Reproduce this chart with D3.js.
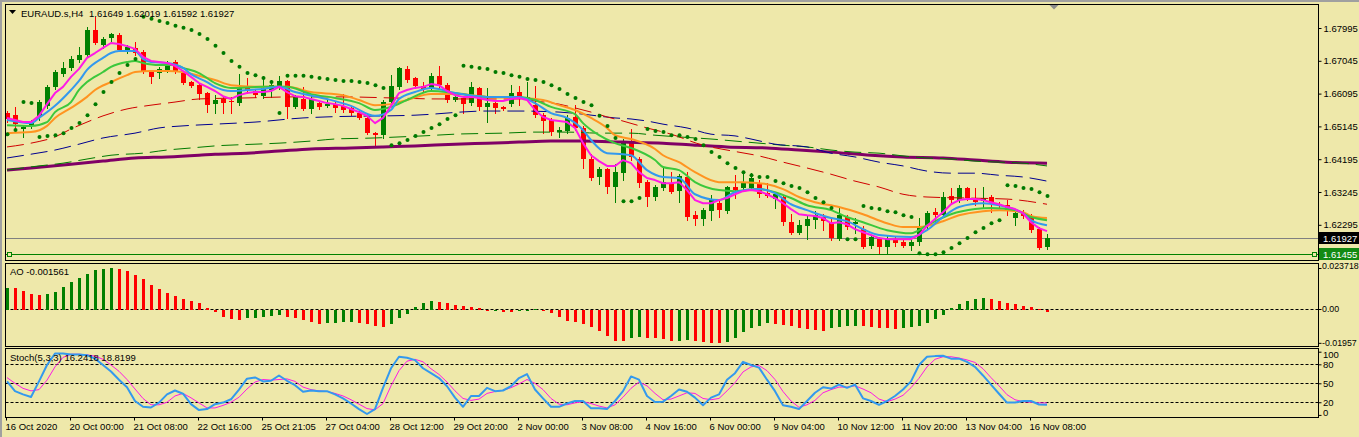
<!DOCTYPE html>
<html><head><meta charset="utf-8">
<script src="https://cdn.jsdelivr.net/npm/d3@7"></script>
<style>
html,body{margin:0;padding:0;background:#EEE8AA;overflow:hidden;}
svg{display:block;}
</style></head><body>
<svg id="c" width="1359" height="437"></svg>
<script>
// ---------------- DATA ----------------
const opens = [
1.6553,1.6547,1.6507,1.6518,1.6542,1.6574,1.6629,1.6666,1.6684,1.6707,
1.6721,1.6794,1.6750,1.6771,1.6779,1.6733,1.6742,1.6730,1.6672,1.6669,
1.6678,1.6701,1.6669,1.6643,1.6634,1.6611,1.6579,1.6594,1.6588,1.6582,
1.6626,1.6617,1.6602,1.6620,1.6629,1.6646,1.6571,1.6594,1.6565,1.6582,
1.6574,1.6579,1.6574,1.6568,1.6553,1.6539,1.6495,1.6489,1.6585,1.6629,
1.6681,1.6655,1.6632,1.6623,1.6661,1.6634,1.6591,1.6597,1.6582,1.6626,
1.6571,1.6582,1.6571,1.6579,1.6614,1.6597,1.6576,1.6547,1.6533,1.6498,
1.6501,1.6542,1.6510,1.6420,1.6368,1.6391,1.6339,1.6379,1.6469,1.6420,
1.6353,1.6310,1.6336,1.6350,1.6327,1.6368,1.6257,1.6246,1.6269,1.6292,
1.6269,1.6339,1.6336,1.6336,1.6347,1.6321,1.6304,1.6310,1.6237,1.6205,
1.6226,1.6243,1.6252,1.6237,1.6188,1.6252,1.6231,1.6217,1.6168,1.6188,
1.6165,1.6185,1.6179,1.6168,1.6179,1.6226,1.6266,1.6257,1.6313,1.6301,
1.6336,1.6307,1.6298,1.6310,1.6289,1.6286,1.6249,1.6263,1.6252,1.6217,
1.61649];
const highs = [
1.6559,1.6571,1.6518,1.6533,1.6591,1.6634,1.6678,1.6701,1.6719,1.6745,
1.6803,1.6832,1.6774,1.6785,1.6785,1.6750,1.6759,1.6736,1.6678,1.6687,
1.6704,1.6707,1.6672,1.6646,1.6637,1.6614,1.6605,1.6600,1.6600,1.6666,
1.6655,1.6623,1.6661,1.6649,1.6661,1.6649,1.6605,1.6629,1.6602,1.6588,
1.6594,1.6585,1.6608,1.6574,1.6559,1.6545,1.6498,1.6591,1.6663,1.6687,
1.6690,1.6658,1.6643,1.6669,1.6690,1.6640,1.6614,1.6602,1.6643,1.6629,
1.6626,1.6588,1.6574,1.6634,1.6632,1.6643,1.6632,1.6553,1.6539,1.6513,
1.6547,1.6576,1.6516,1.6434,1.6397,1.6394,1.6405,1.6478,1.6507,1.6426,
1.6359,1.6344,1.6394,1.6382,1.6376,1.6382,1.6269,1.6278,1.6315,1.6301,
1.6342,1.6373,1.6382,1.6379,1.6359,1.6350,1.6324,1.6315,1.6260,1.6243,
1.6257,1.6269,1.6260,1.6246,1.6278,1.6257,1.6249,1.6226,1.6200,1.6194,
1.6200,1.6194,1.6185,1.6191,1.6249,1.6269,1.6278,1.6324,1.6336,1.6344,
1.6339,1.6336,1.6339,1.6315,1.6295,1.6301,1.6272,1.6272,1.6260,1.6223,
1.62019];
const lows = [
1.6527,1.6504,1.6484,1.6510,1.6533,1.6568,1.6623,1.6661,1.6678,1.6701,
1.6716,1.6753,1.6742,1.6762,1.6733,1.6727,1.6721,1.6669,1.6640,1.6655,
1.6672,1.6669,1.6637,1.6629,1.6594,1.6556,1.6553,1.6553,1.6553,1.6576,
1.6611,1.6600,1.6597,1.6600,1.6623,1.6539,1.6568,1.6562,1.6553,1.6565,
1.6571,1.6556,1.6556,1.6547,1.6536,1.6492,1.6457,1.6481,1.6579,1.6623,
1.6643,1.6626,1.6617,1.6617,1.6626,1.6585,1.6588,1.6553,1.6576,1.6562,
1.6527,1.6553,1.6562,1.6574,1.6576,1.6591,1.6542,1.6495,1.6489,1.6484,
1.6495,1.6504,1.6394,1.6359,1.6347,1.6321,1.6295,1.6359,1.6417,1.6339,
1.6284,1.6301,1.6330,1.6321,1.6295,1.6243,1.6228,1.6228,1.6243,1.6252,
1.6263,1.6307,1.6330,1.6330,1.6310,1.6310,1.6278,1.6228,1.6202,1.6202,
1.6188,1.6220,1.6214,1.6185,1.6185,1.6217,1.6205,1.6162,1.6162,1.6147,
1.6147,1.6168,1.6165,1.6156,1.6171,1.6220,1.6234,1.6252,1.6289,1.6295,
1.6301,1.6286,1.6281,1.6266,1.6278,1.6257,1.6228,1.6249,1.6208,1.6159,
1.61592];
const closes = [
1.6536,1.6521,1.6513,1.6527,1.6585,1.6629,1.6672,1.6684,1.6710,1.6721,
1.6794,1.6756,1.6768,1.6782,1.6736,1.6745,1.6727,1.6672,1.6658,1.6681,
1.6690,1.6672,1.6640,1.6632,1.6608,1.6576,1.6591,1.6582,1.6585,1.6626,
1.6617,1.6605,1.6626,1.6634,1.6646,1.6571,1.6600,1.6565,1.6594,1.6571,
1.6579,1.6568,1.6562,1.6553,1.6539,1.6495,1.6489,1.6585,1.6632,1.6684,
1.6649,1.6632,1.6623,1.6661,1.6634,1.6591,1.6600,1.6579,1.6629,1.6571,
1.6582,1.6568,1.6565,1.6611,1.6600,1.6599,1.6547,1.6530,1.6498,1.6504,
1.6539,1.6510,1.6420,1.6365,1.6391,1.6339,1.6382,1.6466,1.6426,1.6350,
1.6310,1.6339,1.6353,1.6324,1.6371,1.6252,1.6246,1.6272,1.6301,1.6272,
1.6339,1.6330,1.6353,1.6365,1.6318,1.6313,1.6318,1.6237,1.6205,1.6228,
1.6246,1.6257,1.6240,1.6191,1.6257,1.6223,1.6237,1.6165,1.6194,1.6165,
1.6188,1.6176,1.6168,1.6179,1.6220,1.6263,1.6257,1.6310,1.6301,1.6336,
1.6307,1.6295,1.6307,1.6289,1.6284,1.6269,1.6263,1.6255,1.6214,1.6162,
1.61927];

// moving averages
const maMagenta = [
1.6539,1.6533,1.6527,1.6527,1.6545,1.6579,1.6611,1.6629,1.6658,1.6681,
1.6713,1.6727,1.6742,1.6756,1.6753,1.6747,1.6739,1.6716,1.6704,1.6701,
1.6698,1.6690,1.6675,1.6658,1.6640,1.6629,1.6617,1.6602,1.6594,1.6605,
1.6611,1.6614,1.6614,1.6617,1.6629,1.6614,1.6602,1.6600,1.6594,1.6588,
1.6582,1.6579,1.6574,1.6565,1.6556,1.6545,1.6524,1.6539,1.6574,1.6611,
1.6620,1.6626,1.6629,1.6637,1.6634,1.6617,1.6605,1.6600,1.6600,1.6597,
1.6591,1.6588,1.6588,1.6594,1.6597,1.6591,1.6562,1.6542,1.6533,1.6530,
1.6527,1.6510,1.6466,1.6431,1.6414,1.6400,1.6400,1.6417,1.6408,1.6382,
1.6365,1.6359,1.6350,1.6350,1.6353,1.6330,1.6301,1.6292,1.6292,1.6301,
1.6307,1.6318,1.6327,1.6330,1.6327,1.6318,1.6307,1.6292,1.6275,1.6260,
1.6257,1.6255,1.6249,1.6234,1.6237,1.6231,1.6217,1.6208,1.6200,1.6191,
1.6188,1.6188,1.6188,1.6188,1.6200,1.6226,1.6246,1.6266,1.6289,1.6301,
1.6304,1.6304,1.6301,1.6295,1.6289,1.6281,1.6275,1.6263,1.6237,1.6220,
1.6211];
const maBlue = [[0,1.6533],[3,1.6524],[4,1.6539],[6,1.6574],[8,1.6620],[9,1.6646],[10,1.6678],[12,1.6713],[13,1.6727],[14,1.6733],[16,1.6733],[17,1.6710],[18,1.6701],[20,1.6698],[22,1.6684],[23,1.6666],[25,1.6643],[26,1.6629],[28,1.6617],[30,1.6620],[32,1.6623],[34,1.6629],[36,1.6614],[40,1.6594],[43,1.6574],[46,1.6545],[48,1.6562],[49,1.6594],[51,1.6614],[53,1.6626],[56,1.6611],[60,1.6600],[64,1.6600],[66,1.6582],[68,1.6553],[70,1.6539],[72,1.6504],[73,1.6475],[75,1.6437],[77,1.6434],[78,1.6431],[80,1.6388],[82,1.6368],[84,1.6365],[86,1.6318],[89,1.6301],[91,1.6324],[94,1.6333],[96,1.6321],[98,1.6289],[100,1.6272],[103,1.6249],[105,1.6240],[107,1.6217],[109,1.6200],[113,1.6194],[115,1.6214],[117,1.6252],[119,1.6281],[122,1.6292],[124,1.6286],[127,1.6263],[128,1.6243],[130,1.6228]];
const maGreen = [[0,1.6518],[3,1.6516],[5,1.6527],[6,1.6556],[8,1.6585],[9,1.6620],[10,1.6643],[12,1.6672],[13,1.6687],[15,1.6701],[16,1.6704],[17,1.6698],[19,1.6692],[21,1.6692],[22,1.6684],[24,1.6669],[26,1.6640],[28,1.6626],[32,1.6629],[35,1.6629],[38,1.6608],[41,1.6597],[44,1.6582],[46,1.6562],[48,1.6571],[50,1.6591],[53,1.6617],[56,1.6611],[60,1.6600],[64,1.6600],[66,1.6591],[68,1.6571],[71,1.6550],[72,1.6524],[74,1.6489],[76,1.6466],[78,1.6452],[81,1.6417],[82,1.6397],[84,1.6388],[86,1.6353],[89,1.6330],[91,1.6327],[94,1.6333],[96,1.6324],[98,1.6307],[100,1.6286],[103,1.6272],[105,1.6252],[107,1.6237],[110,1.6214],[113,1.6205],[115,1.6228],[118,1.6260],[121,1.6275],[123,1.6278],[126,1.6272],[128,1.6252],[130,1.6243]];
const maOrange = [[0,1.6495],[3,1.6498],[5,1.6516],[6,1.6539],[8,1.6568],[10,1.6600],[11,1.6620],[13,1.6643],[15,1.6663],[16,1.6672],[18,1.6675],[20,1.6675],[22,1.6672],[24,1.6661],[26,1.6649],[28,1.6634],[32,1.6629],[35,1.6629],[38,1.6614],[42,1.6605],[44,1.6591],[46,1.6576],[48,1.6579],[50,1.6591],[53,1.6608],[56,1.6608],[60,1.6600],[64,1.6597],[67,1.6591],[69,1.6576],[71,1.6562],[73,1.6539],[75,1.6510],[76,1.6489],[78,1.6478],[81,1.6449],[82,1.6431],[84,1.6411],[86,1.6382],[89,1.6353],[92,1.6353],[95,1.6347],[97,1.6333],[99,1.6310],[101,1.6295],[104,1.6281],[107,1.6260],[110,1.6234],[112,1.6223],[114,1.6223],[117,1.6240],[119,1.6257],[122,1.6269],[124,1.6272],[127,1.6266],[128,1.6255],[130,1.6249]];
const maRedDash = [[0,1.6455],[3,1.6466],[6,1.6484],[8,1.6507],[10,1.6527],[12,1.6545],[15,1.6565],[18,1.6576],[21,1.6585],[24,1.6594],[30,1.6597],[36,1.6600],[42,1.6600],[48,1.6597],[54,1.6594],[60,1.6594],[64,1.6594],[66,1.6588],[69,1.6579],[71,1.6568],[73,1.6556],[75,1.6542],[77,1.6530],[80,1.6510],[83,1.6492],[87,1.6460],[90,1.6446],[94,1.6429],[97,1.6411],[100,1.6394],[103,1.6376],[106,1.6356],[109,1.6339],[112,1.6318],[115,1.6310],[120,1.6307],[125,1.6304],[130,1.6289]];
const maNavyDash = [[0,1.6423],[3,1.6434],[6,1.6446],[9,1.6463],[12,1.6481],[16,1.6495],[19,1.6510],[22,1.6516],[26,1.6521],[31,1.6527],[37,1.6539],[40,1.6542],[51,1.6547],[60,1.6559],[64,1.6559],[69,1.6556],[72,1.6550],[76,1.6539],[78,1.6536],[80,1.6530],[82,1.6521],[85,1.6510],[88,1.6492],[91,1.6487],[93,1.6478],[96,1.6463],[100,1.6455],[103,1.6437],[106,1.6426],[109,1.6411],[112,1.6400],[115,1.6385],[118,1.6379],[121,1.6379],[124,1.6373],[127,1.6368],[130,1.6356]];
const maGreenDash = [[0,1.6388],[4,1.6400],[7,1.6408],[10,1.6420],[13,1.6431],[17,1.6437],[20,1.6446],[23,1.6452],[26,1.6458],[31,1.6463],[34,1.6466],[38,1.6472],[41,1.6478],[46,1.6481],[49,1.6484],[52,1.6487],[56,1.6492],[62,1.6495],[66,1.6498],[70,1.6498],[74,1.6495],[78,1.6495],[81,1.6489],[84,1.6484],[88,1.6478],[91,1.6472],[94,1.6466],[97,1.6460],[100,1.6455],[103,1.6446],[106,1.6440],[109,1.6437],[112,1.6429],[115,1.6423],[118,1.6420],[121,1.6414],[124,1.6411],[127,1.6408],[130,1.6400]];
const maPurple = [[0,1.6388],[3,1.6394],[8,1.6405],[12,1.6414],[16,1.6423],[20,1.6426],[24,1.6431],[26,1.6434],[30,1.6437],[34,1.6443],[38,1.6449],[43,1.6452],[47,1.6455],[51,1.6458],[56,1.6463],[60,1.6466],[64,1.6469],[68,1.6472],[72,1.6472],[77,1.6469],[82,1.6466],[86,1.6460],[90,1.6455],[95,1.6452],[99,1.6446],[103,1.6440],[108,1.6431],[112,1.6426],[117,1.6423],[121,1.6417],[125,1.6411],[130,1.6408]];

const sar = [
1.6492,1.6504,1.6585,1.6582,1.6484,1.6487,1.6489,1.6495,1.6510,1.6524,
1.6547,1.6579,1.6614,1.6643,1.6669,1.6692,1.6710,1.6832,1.6826,1.6820,
1.6814,1.6806,1.6800,1.6794,1.6782,1.6768,1.6748,1.6727,1.6704,1.6687,
1.6669,1.6663,1.6655,1.6643,1.6553,1.6661,1.6661,1.6661,1.6658,1.6655,
1.6652,1.6649,1.6646,1.6646,1.6643,1.6640,1.6634,1.6626,1.6460,1.6466,
1.6475,1.6487,1.6498,1.6510,1.6521,1.6536,1.6547,1.6690,1.6687,1.6684,
1.6681,1.6672,1.6669,1.6663,1.6658,1.6652,1.6649,1.6643,1.6634,1.6623,
1.6608,1.6597,1.6585,1.6576,1.6545,1.6516,1.6481,1.6298,1.6298,1.6307,
1.6507,1.6501,1.6498,1.6489,1.6489,1.6484,1.6478,1.6460,1.6440,1.6426,
1.6408,1.6394,1.6382,1.6373,1.6368,1.6368,1.6356,1.6350,1.6342,1.6336,
1.6324,1.6307,1.6295,1.6278,null,1.6188,1.6188,1.6284,1.6278,1.6275,
1.6269,1.6266,1.6257,1.6252,1.6147,1.6144,1.6144,1.6150,1.6162,1.6176,
1.6191,1.6208,1.6220,1.6234,1.6243,1.6344,1.6342,1.6336,1.6333,1.6324,
1.6313];

const aoValues = [
0.0123,0.0120,0.0106,0.0087,0.0081,0.0087,0.0100,0.0127,0.0156,0.0181,
0.0202,0.0226,0.0233,0.023718,0.0231,0.0222,0.0197,0.0174,0.0139,0.0116,
0.0091,0.0075,0.0058,0.0046,0.0035,0.0008,-0.0019,-0.0046,-0.0060,-0.0061,
-0.0054,-0.0050,-0.0046,-0.0040,-0.0035,-0.0046,-0.0054,-0.0064,-0.0073,-0.0084,
-0.0081,-0.0079,-0.0077,-0.0075,-0.0081,-0.0087,-0.0097,-0.0102,-0.0087,-0.0054,
-0.0029,0.0013,0.0033,0.0046,0.0039,0.0033,0.0023,0.0017,0.0012,0.0004,
-0.0006,-0.0004,-0.0019,-0.0020,-0.0012,-0.0006,-0.0002,-0.0003,-0.0025,-0.0048,
-0.0068,-0.0073,-0.0087,-0.0102,-0.0127,-0.0154,-0.0183,-0.0185,-0.0170,-0.0160,
-0.0166,-0.0170,-0.0174,-0.0185,-0.0183,-0.0182,-0.0185,-0.0189,-0.0195,-0.01957,
-0.0193,-0.0166,-0.0135,-0.0112,-0.0098,-0.0079,-0.0087,-0.0093,-0.0098,-0.0108,
-0.0116,-0.0121,-0.0127,-0.0112,-0.0102,-0.0098,-0.0097,-0.0098,-0.0102,-0.0108,
-0.0112,-0.0116,-0.0112,-0.0102,-0.0097,-0.0083,-0.0058,-0.0035,0.0008,0.0027,
0.0046,0.0056,0.0062,0.0058,0.0046,0.0033,0.0027,0.0019,0.0013,0.0002,
-0.001561];

const stochMain = [
53,37.6,32.4,28.3,53,79,97,97,95.5,95.5,
94.5,89,79,68.7,55.7,43.8,22,12.8,11.7,19.5,
32.4,38.6,33.5,17,7.6,9.2,17,19.5,24.7,40,
57.3,59.3,53,54,62.4,54,47,36.6,38.6,37.6,
37.6,32.4,26.2,18,9.2,1.4,9.2,42.8,73.8,92,
90.4,86.7,73.8,66,58.3,45.4,27.3,12.8,29.9,29.9,
42.8,37.6,38.6,45.4,58.3,64.5,40.2,26.2,12.8,12.8,
18,22,22,10.7,10.7,9.2,22,37.6,60.9,55.7,
29.9,20.5,21,29.9,40.2,36.6,27.3,15.4,27.3,32.4,
55.7,66,84,79,74.8,55.7,37.6,15.4,12.8,9.2,
22,35,43.8,41.7,48,42.8,48,26.2,22,15.9,
22,29.9,40.2,53,79,92,93,93.5,89,89,
84,76,62.4,48,33.5,19.5,19.5,22,22,16.5,
16.2418];
const stochSignal = [
59,50,42,38,40,55,76,91,96,96,
95,93,88,79,69,56,41,26,16,16,
20,30,34,27,19,11,11,15,20,28,
41,52,56,55,56,57,53,44,40,38,
37,34,30,24,17,10,8,18,46,70,
85,88,84,73,64,52,38,26,23,25,
34,37,39,43,49,56,50,40,26,17,
16,19,21,18,14,11,16,28,42,52,
46,34,24,25,30,35,34,26,24,26,
38,51,68,76,78,70,56,37,22,12,
16,23,35,40,44,44,46,41,35,25,
21,25,31,43,58,76,88,92,92,90,
87,83,73,59,46,32,24,21,20,19,
18.8199];

const priceTicks = [1.67995,1.67045,1.66095,1.65145,1.64195,1.63245,1.62295];
const aoTicks = [0.023718, 0, -0.01957];
const aoTickLabels = ["0.023718","0.00","-0.01957"];
const stochTicks = [100,80,50,20,0];
const stochLevels = [80,50,20];
const timeTickBars = [0,8,16,24,32,40,48,56,64,72,80,88,96,104,112,120,128];
const timeLabels = ["16 Oct 2020","20 Oct 00:00","21 Oct 08:00","22 Oct 16:00","25 Oct 21:05","27 Oct 04:00","28 Oct 12:00","29 Oct 20:00","2 Nov 00:00","3 Nov 08:00","4 Nov 16:00","6 Nov 00:00","9 Nov 04:00","10 Nov 12:00","11 Nov 20:00","13 Nov 04:00","16 Nov 08:00"];
const bidPrice = 1.61927;
const levelPrice = 1.61455;
const headerSymbol = "EURAUD.s,H4";
const headerOHLC = "1.61649 1.62019 1.61592 1.61927";
const aoText = "AO -0.001561";
const stochText = "Stoch(5,3,3) 16.2418 18.8199";

// ---------------- LAYOUT ----------------
const FONT = '"Liberation Sans", Arial, sans-serif';
const FS = 9.5;
const BG = '#EEE8AA';
const PL = 5.5, PR = 1318.5;
const mainTop = 4.5, mainBot = 260.5;
const aoTop = 263.5, aoBot = 346.5;
const stTop = 348.5, stBot = 417.5;

const x = d3.scaleLinear().domain([0,130]).range([7,1047]);
const yP = d3.scaleLinear().domain([1.67995,1.62295]).range([28,224.8]);
const yAO = d3.scaleLinear().domain([0,0.023718]).range([309,268]);
const yS = d3.scaleLinear().domain([0,100]).range([414.9,351.7]);

const svg = d3.select('#c');
svg.append('rect').attr('width',1359).attr('height',437).attr('fill',BG);
svg.append('rect').attr('x',0).attr('y',0).attr('width',1359).attr('height',2).attr('fill','#A0A0A0');
svg.append('rect').attr('x',0).attr('y',0).attr('width',2).attr('height',437).attr('fill','#A0A0A0');

const defs = svg.append('defs');
function clip(id,y0,y1){
  defs.append('clipPath').attr('id',id).append('rect')
    .attr('x',PL+0.5).attr('y',y0+0.5).attr('width',PR-PL-1).attr('height',y1-y0-1);
}
clip('cm',mainTop,mainBot); clip('ca',aoTop,aoBot); clip('cs',stTop,stBot);

// ---------------- MAIN PANEL ----------------
const gm = svg.append('g').attr('clip-path','url(#cm)');
gm.append('line').attr('x1',PL).attr('x2',PR).attr('y1',Math.round(yP(bidPrice))+0.5).attr('y2',Math.round(yP(bidPrice))+0.5)
  .attr('stroke','#808080').attr('stroke-width',1);
const ly = Math.round(yP(levelPrice))+0.5;
gm.append('line').attr('x1',PL).attr('x2',PR).attr('y1',ly).attr('y2',ly).attr('stroke','#008000').attr('stroke-width',1);
[PL+2, PR-6].forEach(sx=>{
  gm.append('rect').attr('x',sx).attr('y',ly-2).attr('width',4).attr('height',4)
    .attr('fill',BG).attr('stroke','#008000').attr('stroke-width',1);
});

const cg = gm.append('g');
opens.forEach((o,i)=>{
  const c = closes[i], h = highs[i], l = lows[i];
  const col = c >= o ? '#008000' : '#FF0000';
  const cx = x(i);
  cg.append('line').attr('x1',cx+0.5).attr('x2',cx+0.5)
    .attr('y1',Math.round(yP(h))).attr('y2',Math.round(yP(l))+1)
    .attr('stroke',col).attr('stroke-width',1);
  const yt = Math.round(yP(Math.max(o,c))), yb = Math.round(yP(Math.min(o,c)));
  cg.append('rect').attr('x',cx-2).attr('y',yt).attr('width',5).attr('height',Math.max(1,yb-yt))
    .attr('fill',col);
});

const linePair = d3.line().x(d=>x(d[0])).y(d=>yP(d[1])).curve(d3.curveMonotoneX);
const lineArr = d3.line().x((d,i)=>x(i)).y(d=>yP(d));
function drawMA(data, color, width, dash, gen){
  gm.append('path').attr('d',(gen||linePair)(data)).attr('fill','none')
    .attr('stroke',color).attr('stroke-width',width)
    .attr('stroke-dasharray',dash||null).attr('stroke-linejoin','round');
}
drawMA(maPurple,'#800066',3);
drawMA(maGreenDash,'#007A00',1,'17,7');
drawMA(maNavyDash,'#000090',1,'17,7');
drawMA(maRedDash,'#D00000',1,'17,7');
drawMA(maOrange,'#FF9420',2);
drawMA(maGreen,'#3CC83C',2);
drawMA(maBlue,'#3399EE',2);
drawMA(maMagenta,'#FF19E6',2,null,lineArr);

gm.append('g').selectAll('circle').data(sar.map((v,i)=>[i,v]).filter(d=>d[1]!==null))
  .join('circle').attr('cx',d=>x(d[0])+0.5).attr('cy',d=>yP(d[1])).attr('r',2)
  .attr('fill','#007A00');

// header
svg.append('path').attr('d','M9,10 L16,10 L12.5,14 Z').attr('fill','#000');
svg.append('text').attr('x',21).attr('y',17).attr('font-family',FONT).attr('font-size',FS)
  .attr('fill','#000').text(headerSymbol);
svg.append('text').attr('x',89).attr('y',17).attr('font-family',FONT).attr('font-size',FS)
  .attr('fill','#000').text(headerOHLC);
svg.append('path').attr('d','M1049,4.5 L1059,4.5 L1054,9.5 Z').attr('fill','#8C8C8C');

// ---------------- AO PANEL ----------------
const ga = svg.append('g').attr('clip-path','url(#ca)');
ga.append('line').attr('x1',PL).attr('x2',PR).attr('y1',yAO(0)+0.5).attr('y2',yAO(0)+0.5)
  .attr('stroke','#000').attr('stroke-dasharray','3,2');
aoValues.forEach((v,i)=>{
  const up = i===0 || v > aoValues[i-1];
  const y0 = Math.round(yAO(0))+1, y1 = Math.round(yAO(v));
  ga.append('rect').attr('x',x(i)-1).attr('width',3)
    .attr('y',Math.min(y0,y1)).attr('height',Math.max(1,Math.abs(y1-y0)))
    .attr('fill',up ? '#008000' : '#FF0000');
});
svg.append('text').attr('x',10).attr('y',275).attr('font-family',FONT).attr('font-size',FS)
  .attr('fill','#000').text(aoText);

// ---------------- STOCH PANEL ----------------
const gs = svg.append('g').attr('clip-path','url(#cs)');
stochLevels.forEach(lv=>{
  const yy = Math.round(yS(lv))+0.5;
  gs.append('line').attr('x1',PL).attr('x2',PR).attr('y1',yy).attr('y2',yy)
    .attr('stroke','#000').attr('stroke-dasharray','3,2');
});
const sLine = d3.line().x((d,i)=>x(i)).y(d=>yS(d));
gs.append('path').attr('d',sLine(stochSignal)).attr('fill','none').attr('stroke','#FF19E6').attr('stroke-width',1);
gs.append('path').attr('d',sLine(stochMain)).attr('fill','none').attr('stroke','#3399EE').attr('stroke-width',2).attr('stroke-linejoin','round');
svg.append('text').attr('x',10).attr('y',361).attr('font-family',FONT).attr('font-size',FS)
  .attr('fill','#000').text(stochText);

// ---------------- FRAMES ----------------
[[mainTop,mainBot],[aoTop,aoBot],[stTop,stBot]].forEach(([a,b])=>{
  svg.append('rect').attr('x',PL).attr('y',a).attr('width',PR-PL).attr('height',b-a)
    .attr('fill','none').attr('stroke','#000').attr('stroke-width',1);
});

// ---------------- AXES ----------------
function styleAxis(g, fs){
  g.attr('font-family',FONT).attr('font-size',fs||FS);
  g.select('.domain').remove();
  g.selectAll('line').attr('stroke','#000');
  g.selectAll('text').attr('fill','#000');
}
const gPA = svg.append('g').attr('transform',`translate(${PR},0)`)
  .call(d3.axisRight(yP).tickValues(priceTicks).tickSize(3).tickPadding(2).tickFormat(d3.format('.5f')));
styleAxis(gPA);

function priceBox(p, fill){
  const yy = Math.round(yP(p));
  svg.append('rect').attr('x',PR+0.5).attr('y',yy-6).attr('width',1359-PR).attr('height',12).attr('fill',fill);
  svg.append('text').attr('x',PR+4.5).attr('y',yy+3.5).attr('font-family',FONT).attr('font-size',FS)
    .attr('fill','#fff').text(d3.format('.5f')(p));
}
priceBox(bidPrice,'#000');
priceBox(levelPrice,'#138A13');

const gAA = svg.append('g').attr('transform',`translate(${PR},0)`)
  .call(d3.axisRight(yAO).tickValues(aoTicks).tickSize(3).tickPadding(0.5).tickFormat((d,i)=>aoTickLabels[i]));
styleAxis(gAA, 8.8);
gAA.selectAll('.tick').filter((d,i)=>i===0).select('text').attr('dy','0.1em');

const gSA = svg.append('g').attr('transform',`translate(${PR},0)`)
  .call(d3.axisRight(yS).tickValues(stochTicks).tickSize(3).tickPadding(1.5));
styleAxis(gSA);
gSA.selectAll('.tick').filter(d=>d===100).select('text').attr('dy','0.62em');
gSA.selectAll('.tick').filter(d=>d===0).select('text').attr('dy','0.05em');

const gX = svg.append('g').attr('transform',`translate(0,${stBot})`)
  .call(d3.axisBottom(x).tickValues(timeTickBars).tickSize(3).tickPadding(3).tickFormat((d,i)=>timeLabels[i]));
styleAxis(gX);
gX.selectAll('.tick').attr('transform',d=>`translate(${x(d)-0.5},0)`);
gX.selectAll('text').attr('text-anchor','start').attr('x',-1);
</script></body></html>
